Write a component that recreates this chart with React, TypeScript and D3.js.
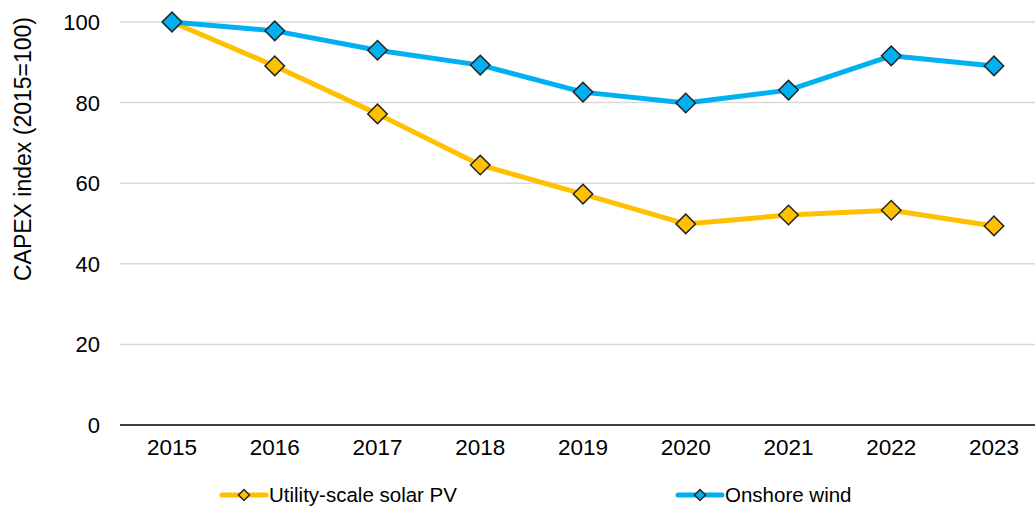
import { useEffect, useRef } from 'react';
import * as d3 from 'd3';

const width = 1035;
const height = 506;

const years = ['2015', '2016', '2017', '2018', '2019', '2020', '2021', '2022', '2023'];
const solarPV = [100, 89.1, 77.2, 64.5, 57.3, 49.9, 52.1, 53.3, 49.4];
const onshoreWind = [100, 97.8, 93.0, 89.3, 82.6, 79.9, 83.1, 91.6, 89.1];
const yTicks = [0, 20, 40, 60, 80, 100];

const series = [
  { name: 'Utility-scale solar PV', values: solarPV, color: '#FFC000', legendX: 222 },
  { name: 'Onshore wind', values: onshoreWind, color: '#00B0F0', legendX: 678 },
];

const font = 'Arial, "Liberation Sans", sans-serif';

export default function App() {
  const ref = useRef<SVGSVGElement>(null);

  useEffect(() => {
    const svg = d3.select(ref.current);
    svg.selectAll('*').remove();

    const x = d3.scalePoint().domain(years).range([172, 994]);
    const y = d3.scaleLinear().domain([0, 100]).range([425, 22]);

    // gridlines
    svg
      .append('g')
      .selectAll('line')
      .data(yTicks.filter((t) => t > 0))
      .join('line')
      .attr('x1', 120)
      .attr('x2', width)
      .attr('y1', (d) => y(d))
      .attr('y2', (d) => y(d))
      .attr('stroke', '#d9d9d9')
      .attr('stroke-width', 1.5);

    // x axis line
    svg
      .append('line')
      .attr('x1', 120)
      .attr('x2', width)
      .attr('y1', y(0))
      .attr('y2', y(0))
      .attr('stroke', '#404040')
      .attr('stroke-width', 2);

    // y tick labels
    svg
      .append('g')
      .selectAll('text')
      .data(yTicks)
      .join('text')
      .attr('x', 100)
      .attr('y', (d) => y(d))
      .attr('dy', '0.36em')
      .attr('text-anchor', 'end')
      .attr('font-family', font)
      .attr('font-size', 22)
      .attr('fill', '#000')
      .text((d) => d);

    // x tick labels
    svg
      .append('g')
      .selectAll('text')
      .data(years)
      .join('text')
      .attr('x', (d) => x(d)!)
      .attr('y', 455)
      .attr('text-anchor', 'middle')
      .attr('font-family', font)
      .attr('font-size', 22.5)
      .attr('fill', '#000')
      .text((d) => d);

    // y title
    svg
      .append('text')
      .attr('transform', 'translate(31,149) rotate(-90)')
      .attr('text-anchor', 'middle')
      .attr('font-family', font)
      .attr('font-size', 23)
      .attr('fill', '#000')
      .text('CAPEX index (2015=100)');

    const line = d3
      .line<number>()
      .x((_, i) => x(years[i])!)
      .y((d) => y(d));

    const diamond = d3.symbol().type(d3.symbolSquare).size(190);
    const smallDiamond = d3.symbol().type(d3.symbolSquare).size(60);

    // draw wind last so it is on top, like the reference
    [series[0], series[1]].forEach((s) => {
      const g = svg.append('g');
      g.append('path')
        .attr('d', line(s.values))
        .attr('fill', 'none')
        .attr('stroke', s.color)
        .attr('stroke-width', 5)
        .attr('stroke-linejoin', 'round');
      g.selectAll('path.marker')
        .data(s.values)
        .join('path')
        .attr('class', 'marker')
        .attr('d', diamond)
        .attr('transform', (d, i) => `translate(${x(years[i])},${y(d)}) rotate(45)`)
        .attr('fill', s.color)
        .attr('stroke', '#262626')
        .attr('stroke-width', 1.5);
    });

    // legend
    series.forEach((s) => {
      const g = svg.append('g').attr('transform', `translate(${s.legendX},495)`);
      g.append('line')
        .attr('x1', 0)
        .attr('x2', 44)
        .attr('stroke', s.color)
        .attr('stroke-width', 5)
        .attr('stroke-linecap', 'round');
      g.append('path')
        .attr('d', smallDiamond)
        .attr('transform', 'translate(22,0) rotate(45)')
        .attr('fill', s.color)
        .attr('stroke', '#262626')
        .attr('stroke-width', 1.5);
      g.append('text')
        .attr('x', 47)
        .attr('y', 7)
        .attr('font-family', font)
        .attr('font-size', 20.5)
        .attr('fill', '#000')
        .text(s.name);
    });
  }, []);

  return (
    <svg
      ref={ref}
      width={width}
      height={height}
      style={{ position: 'absolute', left: 0, top: 0, background: '#fff' }}
    />
  );
}
